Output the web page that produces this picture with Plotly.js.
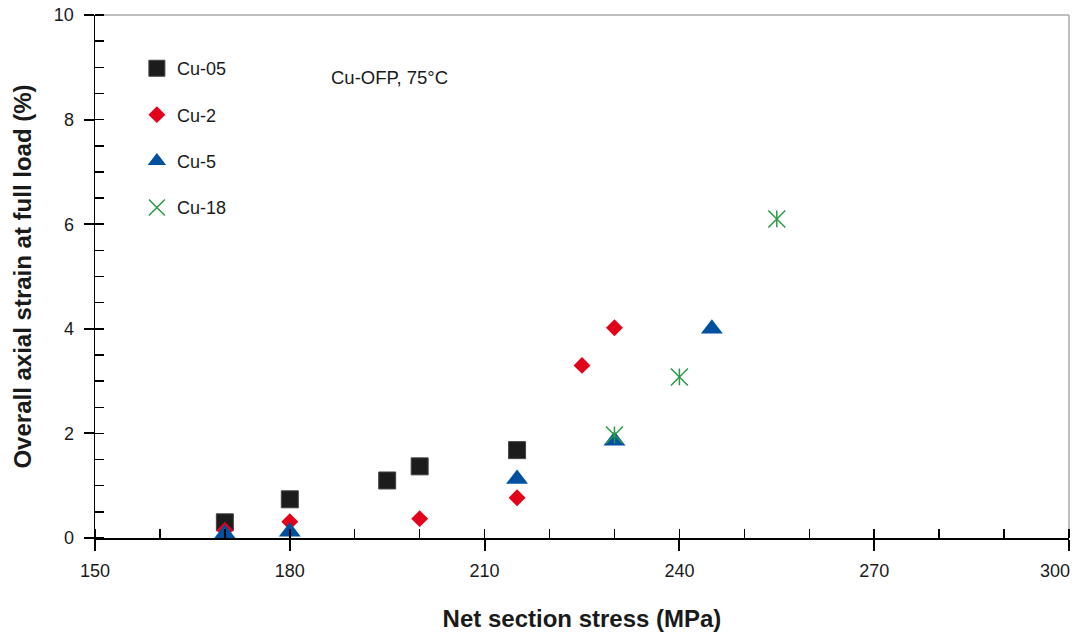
<!DOCTYPE html>
<html>
<head>
<meta charset="utf-8">
<script src="https://cdn.plot.ly/plotly-3.0.1.min.js"></script>
<style>html,body{margin:0;padding:0;background:#fff;}#chart{width:1074px;height:633px;}</style>
</head>
<body>
<div id="chart"></div>
<script>
// Net section stress (MPa) and overall axial strain at full load (%)
const cu05_x = [170, 180, 195, 200, 215];
const cu05_y = [0.30, 0.74, 1.10, 1.37, 1.68];
const cu2_x = [170, 180, 200, 215, 225, 230];
const cu2_y = [0.15, 0.31, 0.37, 0.77, 3.30, 4.02];
const cu5_x = [170, 180, 215, 230, 245];
const cu5_y = [0.08, 0.12, 1.13, 1.86, 4.00];
const cu18_x = [230, 240, 255];
const cu18_y = [1.97, 3.08, 6.10];
const seriesNames = ['Cu-05', 'Cu-2', 'Cu-5', 'Cu-18'];
const xTickVals = [150, 180, 210, 240, 270, 300];
const xTickLabels = ['150', '180', '210', '240', '270', '300'];
const yTickVals = [0, 2, 4, 6, 8, 10];
const noteText = 'Cu-OFP, 75°C';
const xTitle = 'Net section stress (MPa)';
const yTitle = 'Overall axial strain at full load (%)';

const FONT = 'Liberation Sans, Arial, Helvetica, sans-serif';
const lastIdx = xTickLabels.length - 1;
// the last x label sits right-aligned at its tick (page edge), as in the reference
const xTickText = xTickLabels.map((t, i) => i === lastIdx ? '' : t);

const traces = [
  {x: cu05_x, y: cu05_y, name: seriesNames[0], type: 'scatter', mode: 'markers', legendgroup: 'a',
   marker: {symbol: 'square', size: 17, color: '#1c1c1c', line: {color: '#444', width: 1}}},
  {x: cu2_x, y: cu2_y, name: seriesNames[1], type: 'scatter', mode: 'markers', legendgroup: 'b',
   marker: {symbol: 'diamond', size: 13, color: '#e2001a', line: {width: 0}}},
  {x: cu5_x, y: cu5_y, name: seriesNames[2], type: 'scatter', mode: 'markers', legendgroup: 'c',
   marker: {symbol: 'triangle-up', size: 19, color: '#0050a0', line: {width: 0}}},
  {x: cu18_x, y: cu18_y, name: seriesNames[3], type: 'scatter', mode: 'markers', legendgroup: 'd',
   marker: {symbol: 'x-thin-open', size: 17, color: '#2a9a45', line: {color: '#2a9a45', width: 1.5}}},
  {x: cu18_x, y: cu18_y, name: seriesNames[3], type: 'scatter', mode: 'markers', legendgroup: 'd', showlegend: false,
   marker: {symbol: 'line-ns-open', size: 12, color: '#2a9a45', line: {color: '#2a9a45', width: 1.5}}}
];

const layout = {
  width: 1074, height: 633,
  margin: {l: 95, r: 5, t: 15, b: 95},
  paper_bgcolor: '#fff', plot_bgcolor: '#fff',
  font: {family: FONT, size: 18, color: '#1a1a1a'},
  showlegend: true,
  legend: {x: 0.043, y: 0.933, xanchor: 'left', yanchor: 'top', bgcolor: 'rgba(0,0,0,0)',
           font: {family: FONT, size: 18, color: '#1a1a1a'}, tracegroupgap: 20, itemsizing: 'trace'},
  xaxis: {
    range: [150, 300], tickmode: 'array', tickvals: xTickVals, ticktext: xTickText,
    showgrid: false, zeroline: false, showline: true, linecolor: '#000', linewidth: 1.5,
    ticks: 'outside', ticklen: 11, tickwidth: 2, tickcolor: '#000', ticklabelstandoff: 5,
    tickfont: {family: FONT, size: 18, color: '#1a1a1a'},
    minor: {dtick: 10, tick0: 150, ticks: 'inside', ticklen: 9, tickwidth: 1.5, tickcolor: '#000'},
    title: {text: xTitle, font: {family: FONT, size: 24, color: '#1a1a1a', weight: 'bold'}, standoff: 30}
  },
  xaxis2: {
    range: [150, 300], overlaying: 'x', anchor: 'y', side: 'bottom', tickmode: 'array', tickvals: xTickVals,
    showgrid: false, zeroline: false, showline: false, showticklabels: false,
    ticks: 'inside', ticklen: 11, tickwidth: 2, tickcolor: '#000'
  },
  yaxis: {
    range: [0, 10], tickmode: 'array', tickvals: yTickVals,
    showgrid: false, zeroline: false, showline: true, linecolor: '#000', linewidth: 1.5,
    ticks: 'outside', ticklen: 10, tickwidth: 2, tickcolor: '#000', ticklabelstandoff: 6,
    tickfont: {family: FONT, size: 18, color: '#1a1a1a'},
    minor: {dtick: 0.5, tick0: 0, ticks: 'inside', ticklen: 9, tickwidth: 1.5, tickcolor: '#000'},
    title: {text: yTitle, font: {family: FONT, size: 24, color: '#1a1a1a', weight: 'bold'}, standoff: 15}
  },
  yaxis2: {
    range: [0, 10], overlaying: 'y', anchor: 'x', side: 'left', tickmode: 'array', tickvals: yTickVals,
    showgrid: false, zeroline: false, showline: false, showticklabels: false,
    ticks: 'inside', ticklen: 11, tickwidth: 2, tickcolor: '#000'
  },
  shapes: [
    {type: 'line', xref: 'paper', yref: 'paper', x0: 0, x1: 1, y0: 1, y1: 1, layer: 'below', line: {color: '#aaaaaa', width: 1.5}},
    {type: 'line', xref: 'paper', yref: 'paper', x0: 1, x1: 1, y0: 0, y1: 1, layer: 'below', line: {color: '#aaaaaa', width: 1.5}}
  ],
  annotations: [
    {text: noteText, xref: 'paper', yref: 'paper', x: 0.24, y: 0.881, xanchor: 'left', yanchor: 'middle',
     showarrow: false, font: {family: FONT, size: 18.5, color: '#1a1a1a'}},
    {text: xTickLabels[lastIdx], xref: 'x', yref: 'paper', x: xTickVals[lastIdx], y: 0, xanchor: 'right', yanchor: 'middle',
     yshift: -33, xshift: 3, showarrow: false, font: {family: FONT, size: 18, color: '#1a1a1a'}}
  ]
};

Plotly.newPlot('chart', traces, layout, {displayModeBar: false, staticPlot: true});
</script>
</body>
</html>
